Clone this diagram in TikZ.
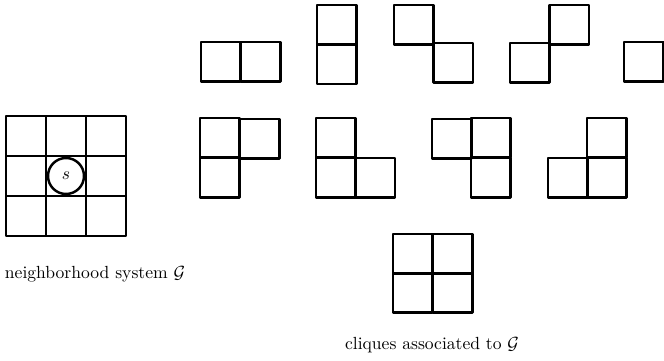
\documentclass[tikz,border=0pt]{standalone}
\usepackage{amsmath,amssymb}
\tikzset{
  cellline/.style={
    line width=1.4pt,
    line join=round
  },
  site/.style={
    shape = circle,
    draw,
    line width=1.4pt,
    fill=white,
    inner sep = 0pt,
    minimum size=0.72cm
  },
  caption/.style={
    font=\normalsize
  }
}
% one square cell, top-left corner given in pixels
\newcommand{\cellsq}[2]{\draw[cellline] (#1,#2) rectangle ++(39.5,39.5);}

\begin{document}
\begin{tikzpicture}[x=0.02cm,y=-0.02cm]
            \useasboundingbox (0,0) rectangle (664,361);
            % neighborhood system
            \foreach \x in {6,46,86}{
                \foreach \y in {116,156,196}{
                    \draw[cellline] (\x,\y) rectangle ++(40,40);
                }
            }
            \node[site] (s) at (66,176) {$s$};
            \node[caption] (nbh) at (95,274) {neighborhood system $\mathcal{G}$};
            % cliques, first row
            \foreach \x/\y in {201/42,241/42, 317/5,317/44.5, 394/5,433.5/43,
                               510/43,549.5/5, 624/42}{
                    \cellsq{\x}{\y}
                }
            % cliques, second row
            \foreach \x/\y in {200/118,240/119,200/158, 316/118,316/158,355.5/158,
                               432/119,471/118,471/158, 587/118,548/158,587/158}{
                    \cellsq{\x}{\y}
                }
            % cliques, 2x2
            \foreach \x in {393,433}{
                \foreach \y in {234,273}{
                    \cellsq{\x}{\y}
                }
            }
            \node[caption] (clq) at (432,345) {cliques associated to $\mathcal{G}$};
        \end{tikzpicture}
\end{document}
